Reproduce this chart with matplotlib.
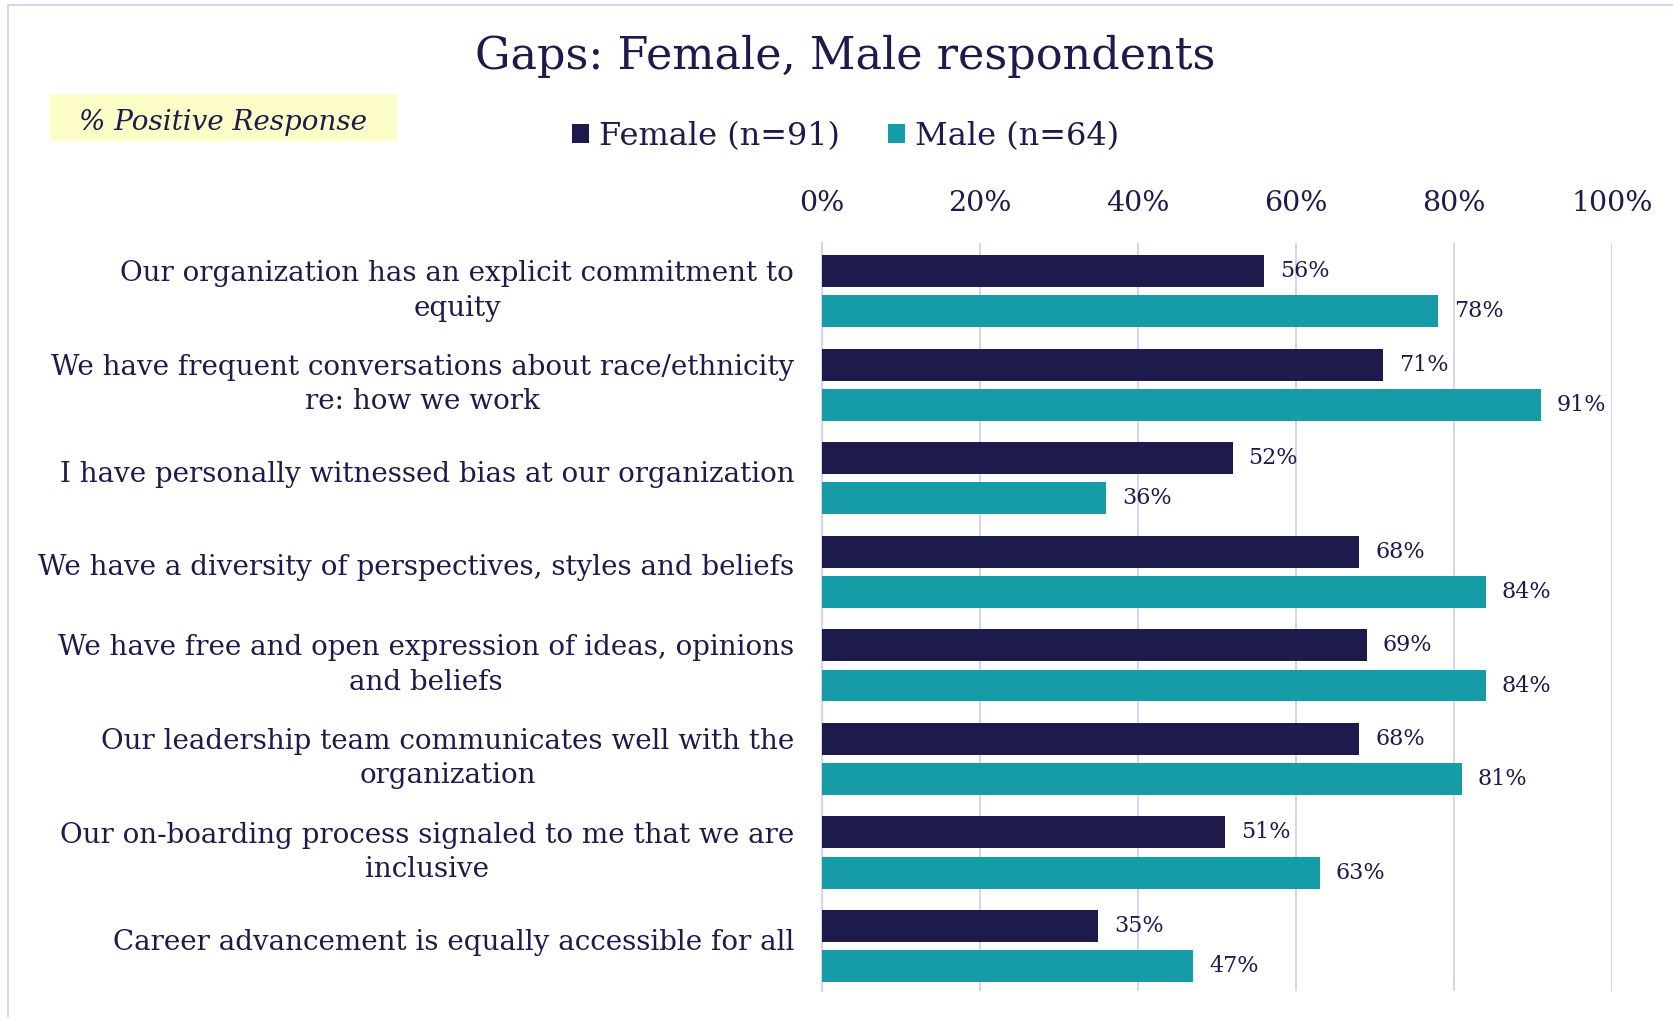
import numpy as np
import matplotlib.pyplot as plt
import matplotlib.transforms as mtransforms
from matplotlib.patches import Rectangle

categories = [
    "Our organization has an explicit commitment to\nequity",
    "We have frequent conversations about race/ethnicity\nre: how we work",
    "I have personally witnessed bias at our organization",
    "We have a diversity of perspectives, styles and beliefs",
    "We have free and open expression of ideas, opinions\nand beliefs",
    "Our leadership team communicates well with the\norganization",
    "Our on-boarding process signaled to me that we are\ninclusive",
    "Career advancement is equally accessible for all",
]
female = [56, 71, 52, 68, 69, 68, 51, 35]
male = [78, 91, 36, 84, 84, 81, 63, 47]
series_names = ["Female (n=91)", "Male (n=64)"]
xticks = [0, 20, 40, 60, 80, 100]

navy = "#1d1b4c"
teal = "#159ca7"
grid = "#d6d4f0"
font = "DejaVu Serif"

fig = plt.figure(figsize=(16.74, 10.17), dpi=100)
fig.patch.set_facecolor("white")

# thin lavender frame around the picture
fig.patches.append(Rectangle((0.005, -0.01), 1.2, 1.005, transform=fig.transFigure,
                             fill=False, edgecolor=grid, lw=1.5))

ax = fig.add_axes([0.491, 0.0256, 0.472, 0.735])
y = np.arange(len(categories))
off = 0.215
h = 0.34
ax.barh(y - off, female, height=h, color=navy, label=series_names[0], zorder=3)
ax.barh(y + off, male, height=h, color=teal, label=series_names[1], zorder=3)

for i in range(len(categories)):
    ax.text(female[i] + 2.0, y[i] - off, "{}%".format(female[i]), va="center", ha="left",
            fontsize=16, color=navy, family=font)
    ax.text(male[i] + 2.0, y[i] + off, "{}%".format(male[i]), va="center", ha="left",
            fontsize=16, color=navy, family=font)

ax.set_xlim(0, 100)
ax.set_ylim(7.48, -0.51)
ax.set_xticks(xticks)
ax.set_xticklabels(["{}%".format(t) for t in xticks], fontsize=20.5, color=navy, family=font)
ax.xaxis.tick_top()
ax.tick_params(axis="x", length=0, pad=19)
ax.set_yticks(y)
ax.set_yticklabels(categories, fontsize=20, color=navy, family=font, ha="right",
                   multialignment="center", linespacing=1.35)
ax.tick_params(axis="y", length=0, pad=20)
shift = mtransforms.ScaledTranslation(0, 5 / 72, fig.dpi_scale_trans)
for lab in ax.get_yticklabels():
    lab.set_transform(lab.get_transform() + shift)
ax.grid(axis="x", color=grid, lw=1.5, zorder=0)
for s in ["top", "right", "bottom"]:
    ax.spines[s].set_visible(False)
ax.spines["left"].set_color(grid)
ax.spines["left"].set_linewidth(1.5)

fig.text(0.505, 0.945, "Gaps: Female, Male respondents", ha="center", va="center",
         fontsize=32, color=navy, family=font)

# yellow note box
fig.patches.append(Rectangle((0.030, 0.861), 0.207, 0.047, transform=fig.transFigure,
                             facecolor="#fdfdc8", edgecolor="none"))
fig.text(0.1335, 0.880, "% Positive Response", ha="center", va="center", fontsize=20,
         style="italic", color=navy, family=font)

fig.legend(loc="center", bbox_to_anchor=(0.505, 0.866), ncol=2, frameon=False,
           prop={"family": font, "size": 23}, labelcolor=navy, handlelength=0.55,
           handleheight=0.55, handletextpad=0.3, columnspacing=1.5)

plt.savefig("out.png", dpi=100)
